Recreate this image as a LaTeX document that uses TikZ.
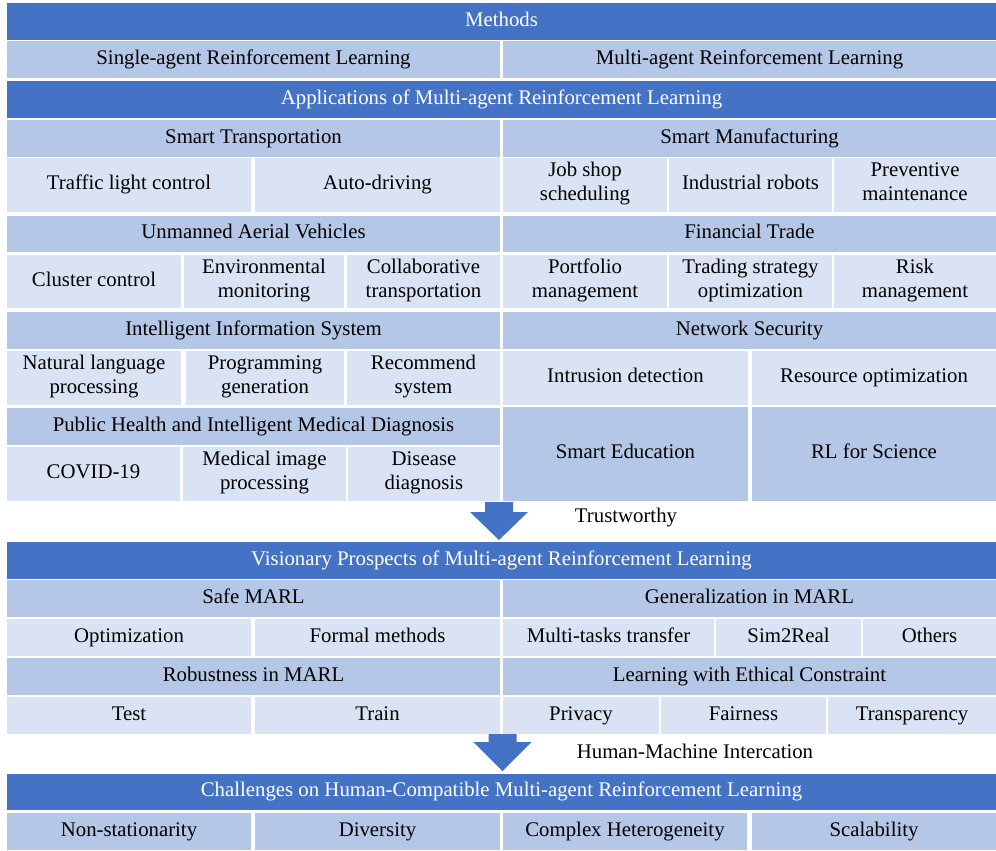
\documentclass[tikz,border=0pt]{standalone}
\usepackage{fontspec}
\setmainfont{Liberation Serif}
\definecolor{dkb}{HTML}{4472C4}
\definecolor{mdb}{HTML}{B4C7E7}
\definecolor{ltb}{HTML}{DAE3F3}
\tikzset{
  box/.style={inner sep=0pt, align=center, font=\fontsize{15.6}{18}\selectfont,
    execute at begin node=\strut, execute at end node=\strut},
  dk/.style={box, fill=dkb, text=white},
  md/.style={box, fill=mdb},
  lt/.style={box, fill=ltb},
  note/.style={inner sep=0pt, font=\fontsize{15.6}{18}\selectfont}
}
% one cell of the table, corners given in pixels
\newcommand{\blk}[7]{%
  \node[#6, minimum width={(#4-#2)*0.75pt}, minimum height={(#5-#3)*0.75pt}]
    (#1) at ({(#2+#4)/2},{(#3+#5)/2}) {#7};}
\begin{document}
\begin{tikzpicture}[x=0.75pt, y=-0.75pt]
  \useasboundingbox (0,0) rectangle (996,850);
  % title bars
  \foreach \n/\xa/\ya/\xb/\yb/\t in {
      meth/7/3/996/40/Methods,
      apps/7/81/996/118/Applications of Multi-agent Reinforcement Learning,
      vis/7/542/996/579/Visionary Prospects of Multi-agent Reinforcement Learning,
      chal/7/774/996/810/Challenges on Human-Compatible Multi-agent Reinforcement Learning}
    \blk{\n}{\xa}{\ya}{\xb}{\yb}{dk}{\t};
  % group headers
  \foreach \n/\xa/\ya/\xb/\yb/\t in {
      sarl/7/41/500/78/Single-agent Reinforcement Learning,
      marl/503/41/996/78/Multi-agent Reinforcement Learning,
      trans/7/120/500/157/Smart Transportation,
      manu/503/120/996/157/Smart Manufacturing,
      uav/7/216/500/252/Unmanned Aerial Vehicles,
      fin/503/216/996/252/Financial Trade,
      iis/7/312/500/349/Intelligent Information System,
      netsec/503/312/996/349/Network Security,
      health/7/408/500/445/Public Health and Intelligent Medical Diagnosis,
      edu/503/407/748/501/Smart Education,
      rlsci/752/407/996/501/RL for Science,
      safe/7/580/500/617/Safe MARL,
      gen/503/580/996/617/Generalization in MARL,
      robust/7/658/500/695/Robustness in MARL,
      ethic/503/658/996/695/Learning with Ethical Constraint,
      nonstat/7/813/251/850/Non-stationarity,
      divers/255/813/500/850/Diversity,
      complex/503/813/747/850/Complex Heterogeneity,
      scal/752/813/996/850/Scalability}
    \blk{\n}{\xa}{\ya}{\xb}{\yb}{md}{\t};
  % items
  \foreach \n/\xa/\ya/\xb/\yb/\t in {
      traffic/7/158/251/212/Traffic light control,
      autod/255/158/500/212/Auto-driving,
      jobshop/503/158/667/212/{Job shop\\scheduling},
      robots/669/158/832/212/Industrial robots,
      prevent/834/158/996/212/{Preventive\\maintenance},
      cluster/7/255/181/308/Cluster control,
      envmon/184/255/344/308/{Environmental\\monitoring},
      collab/347/255/500/308/{Collaborative\\transportation},
      portf/503/255/667/308/{Portfolio\\management},
      trading/669/255/832/308/{Trading strategy\\optimization},
      risk/834/255/996/308/{Risk\\management},
      nlp/7/351/181/405/{Natural language\\processing},
      prog/186/351/344/405/{Programming\\generation},
      recsys/347/351/500/405/{Recommend\\system},
      intrus/503/351/748/405/Intrusion detection,
      resopt/752/351/996/405/Resource optimization,
      covid/7/447/180/501/COVID-19,
      medimg/183/447/346/501/{Medical image\\processing},
      disease/348/447/500/501/{Disease\\diagnosis},
      optim/7/619/251/656/Optimization,
      formal/255/619/500/656/Formal methods,
      multitask/503/619/714/656/Multi-tasks transfer,
      simreal/716/619/861/656/Sim2Real,
      others/863/619/996/656/Others,
      test/7/697/251/734/Test,
      train/255/697/500/734/Train,
      privacy/503/697/659/734/Privacy,
      fair/661/697/826/734/Fairness,
      transp/828/697/996/734/Transparency}
    \blk{\n}{\xa}{\ya}{\xb}{\yb}{lt}{\t};
  % block arrows
  \foreach \cx/\ya/\yb/\yc in {499/502/512/540, 502.5/734/742/771}
    \fill[dkb] (\cx-14,\ya) -- (\cx+14,\ya) -- (\cx+14,\yb) -- (\cx+29,\yb)
      -- (\cx,\yc) -- (\cx-29,\yb) -- (\cx-14,\yb) -- cycle;
  \node[note] (trust) at (626,518) {Trustworthy};
  \node[note] (hmi) at (695,751) {Human-Machine Intercation};
\end{tikzpicture}
\end{document}
